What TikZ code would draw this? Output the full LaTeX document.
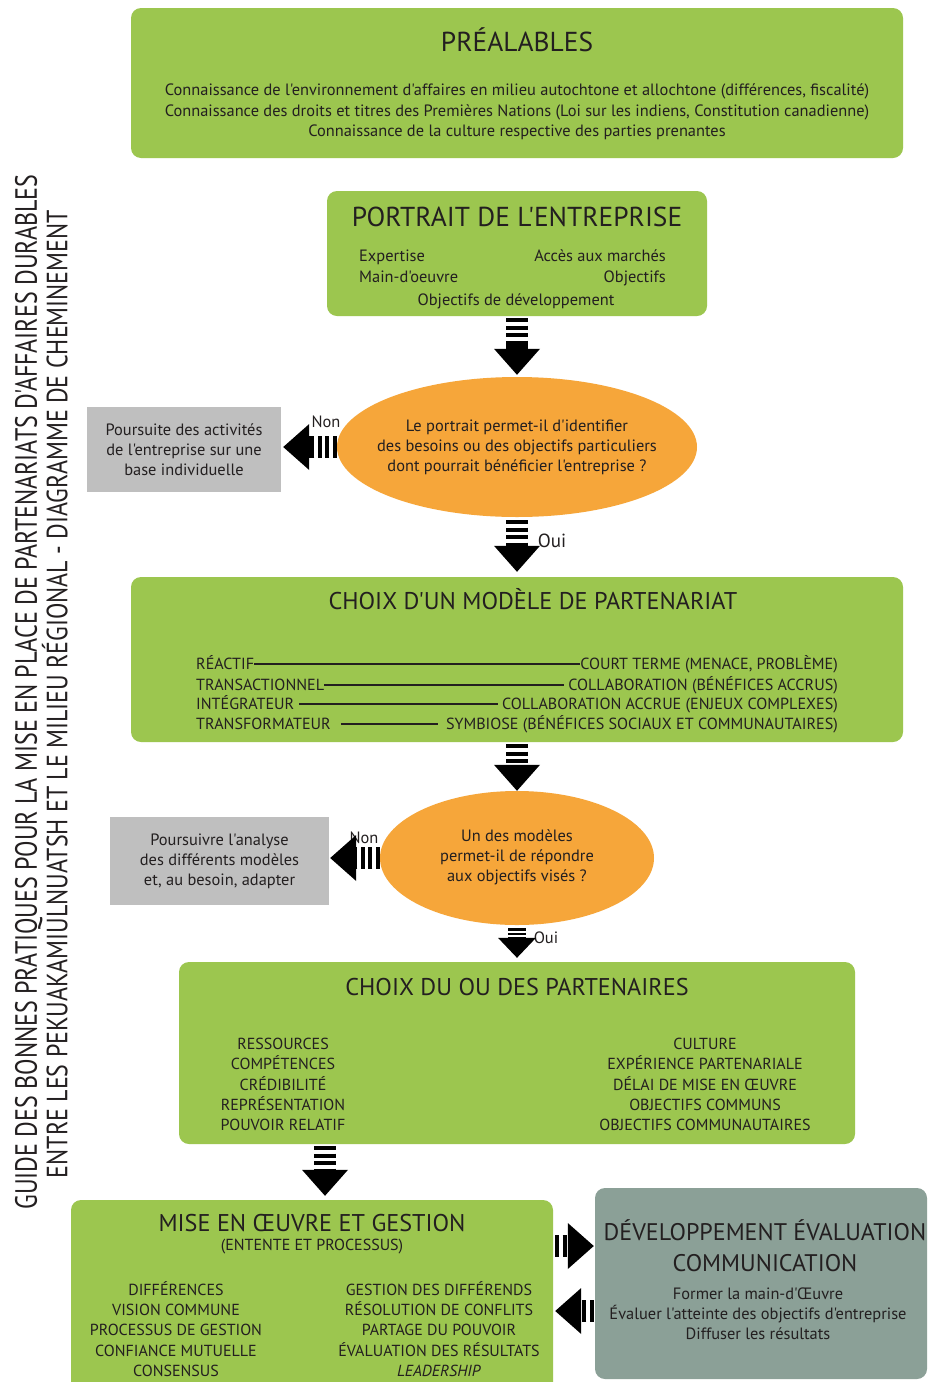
\documentclass[tikz,border=0pt]{standalone}
\usepackage{fontspec}
\setmainfont{PT Sans}[Ligatures=TeXOff]
\usepackage{graphicx}
\usetikzlibrary{shapes.geometric,arrows.meta}
\definecolor{grn}{RGB}{156,198,79}
\definecolor{org}{RGB}{246,166,58}
\definecolor{gry}{RGB}{191,191,191}
\definecolor{sage}{RGB}{139,160,151}
\definecolor{ink}{RGB}{35,31,32}
\newcommand\fs[2]{\fontsize{#1}{#2}\selectfont}
\begin{document}
\begin{tikzpicture}[x=1pt,y=-1pt,
  every node/.style={inner sep=0pt,text=ink},
  gbox/.style={fill=grn,rounded corners=10pt},
  graybox/.style={fill=gry,align=center,font=\fs{16.4}{20}},
  sbox/.style={fill=sage,rounded corners=10pt},
  oval/.style={ellipse,fill=org},
  ttl/.style={font=\fs{27.4}{31}},
  ttlb/.style={font=\fs{24.2}{28}},
  body/.style={font=\fs{16.4}{20.5},align=center},
  caps/.style={font=\fs{16}{20.3},align=center},
  row/.style={font=\fs{16.1}{18},text height=11pt,text depth=0pt},
  lbl/.style={font=\fs{16.4}{18}},
  barrow/.style={draw=black,line width=22pt,
    dash pattern=on 4pt off 3.5pt on 4pt off 3.5pt on 4pt off 3.5pt on 500pt off 1pt,
    -{Triangle[length=26pt,width=46pt,line width=0pt]}},
  sarrow/.style={draw=black,line width=18pt,
    dash pattern=on 2.5pt off 2pt on 2.5pt off 2pt on 2.5pt off 2pt on 500pt off 1pt,
    -{Triangle[length=20pt,width=38pt,line width=0pt]}},
  rline/.style={draw=ink,line width=1.1pt}
]
\clip (0,0) rectangle (928,1382);
\useasboundingbox (0,0) rectangle (928,1382);
\fill[white] (0,0) rectangle (928,1382);

% vertical title
\node[rotate=90] (v1) at (26,692) {\fs{26}{30}\resizebox{1035pt}{21.5pt}{\vphantom{E}\smash{GUIDE DES BONNES PRATIQUES POUR LA MISE EN PLACE DE PARTENARIATS D'AFFAIRES DURABLES}}};
\node[rotate=90] (v2) at (57,694) {\fs{26}{30}\resizebox{968pt}{20.5pt}{\vphantom{E}\smash{ENTRE LES PEKUAKAMIULNUATSH ET LE MILIEU RÉGIONAL - DIAGRAMME DE CHEMINEMENT}}};

% Préalables
\node[gbox,minimum width=772pt,minimum height=150pt] (pre) at (517,83) {};
\node[ttl] (preT) at (517,40) {PRÉALABLES};
\node[body] (preB) at (517,112) {Connaissance de l'environnement d'affaires en milieu autochtone et allochtone (différences, fiscalité)\\
Connaissance des droits et titres des Premières Nations (Loi sur les indiens, Constitution canadienne)\\
Connaissance de la culture respective des parties prenantes};

% Portrait
\node[gbox,minimum width=380pt,minimum height=125pt] (por) at (517,253.5) {};
\node[ttl] (porT) at (517,217) {PORTRAIT DE L'ENTREPRISE};
\node[lbl,anchor=base west] (p1) at (359,261) {Expertise};
\node[lbl,anchor=base west] (p2) at (359,282) {Main-d'oeuvre};
\node[lbl,anchor=base east] (p3) at (666,261) {Accès aux marchés};
\node[lbl,anchor=base east] (p4) at (666,282) {Objectifs};
\node[lbl,anchor=base] (p5) at (516,305) {Objectifs de développement};

% Question 1
\node[oval,minimum width=360pt,minimum height=140pt] (q1) at (517,447) {};
\node[body,font=\fs{16.4}{20}] (q1t) at (q1) {Le portrait permet-il d'identifier\\des besoins ou des objectifs particuliers\\dont pourrait bénéficier l'entreprise ?};
\node[graybox,minimum width=194pt,minimum height=85pt] (g1) at (184,449.5) {Poursuite des activités\\de l'entreprise sur une\\base individuelle};
\node[lbl] (non1) at (326,422) {Non};
\node[lbl,font=\fs{19}{22}] (oui1) at (552,541) {Oui};

% Choix modèle
\node[gbox,minimum width=772pt,minimum height=165pt] (mod) at (517,659.5) {};
\node[ttlb] (modT) at (533,599) {CHOIX D'UN MODÈLE DE PARTENARIAT};
\node[row,anchor=west] (l1) at (196,664) {RÉACTIF};
\node[row,anchor=west] (l2) at (196,685) {TRANSACTIONNEL};
\node[row,anchor=west] (l3) at (196,704) {INTÉGRATEUR};
\node[row,anchor=west] (l4) at (196,724) {TRANSFORMATEUR};
\node[row,anchor=east] (r1) at (838,664) {COURT TERME (MENACE, PROBLÈME)};
\node[row,anchor=east] (r2) at (838,685) {COLLABORATION (BÉNÉFICES ACCRUS)};
\node[row,anchor=east] (r3) at (838,704) {COLLABORATION ACCRUE (ENJEUX COMPLEXES)};
\node[row,anchor=east] (r4) at (838,724) {SYMBIOSE (BÉNÉFICES SOCIAUX ET COMMUNAUTAIRES)};
\draw[rline] (l1.east) -- (r1.west);
\draw[rline] (l2.east) -- ([xshift=-4pt]r2.west);
\draw[rline] ([xshift=5pt]l3.east) -- ([xshift=-4pt]r3.west);
\draw[rline] ([xshift=10pt]l4.east) -- ([xshift=-8pt]r4.west);

% Question 2
\node[oval,minimum width=274pt,minimum height=134pt] (q2) at (517,858) {};
\node[body,font=\fs{16.4}{20}] (q2t) at (517,857) {Un des modèles\\permet-il de répondre\\aux objectifs visés ?};
\node[graybox,minimum width=219pt,minimum height=88pt] (g2) at (219.5,861) {Poursuivre l'analyse\\des différents modèles\\et, au besoin, adapter};
\node[lbl] (non2) at (364,838) {Non};
\node[lbl] (oui2) at (546,938) {Oui};

% Partenaires
\node[gbox,minimum width=676pt,minimum height=182pt] (par) at (517,1053) {};
\node[ttlb] (parT) at (517,987) {CHOIX DU OU DES PARTENAIRES};
\node[caps] (parL) at (283,1084.5) {RESSOURCES\\COMPÉTENCES\\CRÉDIBILITÉ\\REPRÉSENTATION\\POUVOIR RELATIF};
\node[caps] (parR) at (705,1084.5) {CULTURE\\EXPÉRIENCE PARTENARIALE\\DÉLAI DE MISE EN ŒUVRE\\OBJECTIFS COMMUNS\\OBJECTIFS COMMUNAUTAIRES};

% Mise en oeuvre
\node[gbox,minimum width=482pt,minimum height=192pt] (mis) at (312,1296) {};
\node[ttlb] (misT) at (312,1223) {MISE EN ŒUVRE ET GESTION};
\node[lbl,font=\fs{16}{18}] (misS) at (312,1247) {(ENTENTE ET PROCESSUS)};
\node[caps] (misL) at (176,1329) {DIFFÉRENCES\\VISION COMMUNE\\PROCESSUS DE GESTION\\CONFIANCE MUTUELLE\\CONSENSUS};
\node[caps] (misR) at (439,1329) {GESTION DES DIFFÉRENDS\\RÉSOLUTION DE CONFLITS\\PARTAGE DU POUVOIR\\ÉVALUATION DES RÉSULTATS\\\textit{LEADERSHIP}};

% Développement
\node[sbox,minimum width=332pt,minimum height=191pt] (dev) at (761,1283.5) {};
\node[ttlb,font=\fs{24}{31},align=center] (devT) at (765,1246) {DÉVELOPPEMENT ÉVALUATION\\COMMUNICATION};
\node[body,font=\fs{16.4}{20}] (devB) at (758,1314) {Former la main-d'Œuvre\\Évaluer l'atteinte des objectifs d'entreprise\\Diffuser les résultats};

% connectors
\coordinate (a3) at (325,0);
\coordinate (h1) at (0,1246);
\coordinate (h2) at (0,1311);
\draw[barrow,shorten <=2pt,shorten >=2pt] (por.south) -- (q1.north);
\draw[barrow,shorten >=2pt] (q1.west) -- (q1.west -| g1.east);
\draw[barrow,shorten <=3pt,shorten >=5pt] (q1.south) -- (mod.north);
\draw[barrow,shorten <=2pt] (mod.south) -- (q2.north);
\draw[barrow,shorten >=1pt] (q2.west) -- (q2.west -| g2.east);
\draw[sarrow,shorten <=3pt,shorten >=4pt] (q2.south) -- (par.north);
\draw[barrow,shorten <=2pt,shorten >=4pt] (par.south -| a3) -- (mis.north -| a3);
\draw[barrow,shorten <=2pt,shorten >=1pt] (mis.east |- h1) -- (dev.west |- h1);
\draw[barrow,shorten <=1pt,shorten >=2pt] (dev.west |- h2) -- (mis.east |- h2);
\end{tikzpicture}
\end{document}
